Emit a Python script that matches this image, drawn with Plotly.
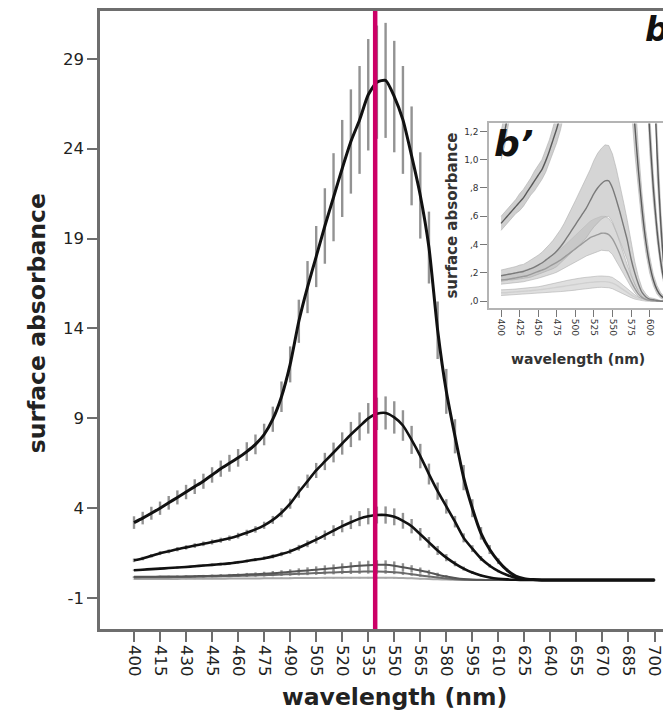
import plotly.graph_objects as go

# ---------------- data ----------------
WAVELENGTH = list(range(400, 705, 5))

X_TICK_VALUES = [400, 415, 430, 445, 460, 475, 490, 505, 520, 535, 550,
                 565, 580, 595, 610, 625, 640, 655, 670, 685, 700]
X_TICK_LABELS = [str(v) for v in X_TICK_VALUES]
Y_TICK_VALUES = [-1, 4, 9, 14, 19, 24, 29]
Y_TICK_LABELS = ["-1", "4", "9", "14", "19", "24", "29"]

INSET_X_TICK_VALUES = [400, 425, 450, 475, 500, 525, 550, 575, 600, 625, 650, 675, 700]
INSET_X_TICK_LABELS = [str(v) for v in INSET_X_TICK_VALUES]
INSET_Y_TICK_VALUES = [0.0, 0.2, 0.4, 0.6, 0.8, 1.0, 1.2]
INSET_Y_TICK_LABELS = [",0", ",2", ",4", ",6", ",8", "1,0", "1,2"]

MARKER_WAVELENGTH = 539

# series (400..700 nm, step 5)
A = [3.2, 3.45, 3.72, 4.0, 4.3, 4.6, 4.9, 5.2, 5.5, 5.85,
     6.2, 6.5, 6.8, 7.15, 7.55, 8.1, 8.95, 10.2, 12.0, 14.4,
     16.3, 18.0, 19.7, 21.3, 22.9, 24.4, 25.6, 27.0, 27.7, 27.8,
     26.9, 25.6, 23.6, 21.4, 18.5, 13.9, 10.5, 8.0, 5.7, 4.0,
     2.6, 1.7, 1.05, 0.55, 0.22, 0.08, 0.03, 0.01, 0.01, 0.01,
     0.01, 0.01, 0.01, 0.01, 0.01, 0.01, 0.01, 0.01, 0.01, 0.01, 0.01]
A_ERR = [0.35, 0.35, 0.36, 0.37, 0.38, 0.39, 0.40, 0.41, 0.42, 0.43,
         0.45, 0.47, 0.49, 0.52, 0.55, 0.6, 0.7, 0.85, 1.0, 1.2,
         1.45, 1.7, 2.1, 2.45, 2.7, 2.9, 3.0, 3.1, 3.15, 3.2,
         3.1, 3.0, 2.75, 2.4, 2.0, 1.6, 1.25, 0.95, 0.7, 0.5,
         0.35, 0.25, 0.16, 0.1, 0.06, 0.04, 0.02, 0.02, 0.02, 0.02,
         0.02, 0.02, 0.02, 0.02, 0.02, 0.02, 0.02, 0.02, 0.02, 0.02, 0.02]

B = [1.1, 1.2, 1.35, 1.5, 1.6, 1.72, 1.82, 1.92, 2.02, 2.12,
     2.22, 2.33, 2.47, 2.63, 2.82, 3.05, 3.35, 3.75, 4.25, 4.9,
     5.5, 6.1, 6.6, 7.1, 7.6, 8.1, 8.55, 9.0, 9.25, 9.3,
     9.05, 8.6, 7.8, 6.9, 5.9, 4.95, 4.1, 3.25, 2.35, 1.75,
     1.2, 0.8, 0.5, 0.28, 0.13, 0.05, 0.02, 0.01, 0.01, 0.01,
     0.01, 0.01, 0.01, 0.01, 0.01, 0.01, 0.01, 0.01, 0.01, 0.01, 0.01]
B_ERR = [0.1, 0.1, 0.1, 0.11, 0.11, 0.12, 0.12, 0.13, 0.13, 0.14,
         0.14, 0.15, 0.16, 0.17, 0.18, 0.2, 0.22, 0.25, 0.28, 0.32,
         0.37, 0.42, 0.48, 0.55, 0.62, 0.7, 0.78, 0.85, 0.9, 0.92,
         0.9, 0.85, 0.78, 0.68, 0.58, 0.48, 0.4, 0.32, 0.25, 0.19,
         0.14, 0.1, 0.07, 0.05, 0.03, 0.02, 0.01, 0.01, 0.01, 0.01,
         0.01, 0.01, 0.01, 0.01, 0.01, 0.01, 0.01, 0.01, 0.01, 0.01, 0.01]

C = [0.55, 0.58, 0.61, 0.64, 0.67, 0.7, 0.73, 0.77, 0.81, 0.85,
     0.89, 0.93, 0.99, 1.06, 1.14, 1.22, 1.32, 1.45, 1.6, 1.8,
     2.02, 2.25, 2.5, 2.75, 3.0, 3.22, 3.42, 3.55, 3.62, 3.62,
     3.52, 3.3, 3.0, 2.55, 2.1, 1.65, 1.25, 0.92, 0.64, 0.42,
     0.26, 0.15, 0.08, 0.04, 0.02, 0.01, 0.005, 0.0, 0.0, 0.0,
     0.0, 0.0, 0.0, 0.0, 0.0, 0.0, 0.0, 0.0, 0.0, 0.0, 0.0]
C_ERR = [0.05, 0.05, 0.05, 0.05, 0.05, 0.06, 0.06, 0.06, 0.06, 0.07,
         0.07, 0.07, 0.08, 0.08, 0.09, 0.1, 0.11, 0.12, 0.14, 0.16,
         0.19, 0.22, 0.26, 0.3, 0.34, 0.38, 0.42, 0.45, 0.47, 0.48,
         0.47, 0.44, 0.4, 0.35, 0.3, 0.25, 0.2, 0.15, 0.11, 0.08,
         0.06, 0.04, 0.03, 0.02, 0.01, 0.01, 0.01, 0.01, 0.01, 0.01,
         0.01, 0.01, 0.01, 0.01, 0.01, 0.01, 0.01, 0.01, 0.01, 0.01, 0.01]

D = [0.18, 0.185, 0.19, 0.195, 0.2, 0.205, 0.21, 0.22, 0.23, 0.24,
     0.255, 0.27, 0.29, 0.31, 0.33, 0.355, 0.385, 0.42, 0.46, 0.5,
     0.54, 0.58, 0.62, 0.66, 0.71, 0.76, 0.8, 0.83, 0.85, 0.85,
     0.8, 0.72, 0.63, 0.53, 0.43, 0.3, 0.2, 0.12, 0.06, 0.03,
     0.015, 0.01, 0.005, 0.0, 0.0, 0.0, 0.0, 0.0, 0.0, 0.0,
     0.0, 0.0, 0.0, 0.0, 0.0, 0.0, 0.0, 0.0, 0.0, 0.0, 0.0]
D_ERR = [0.04, 0.04, 0.04, 0.045, 0.045, 0.05, 0.05, 0.055, 0.06, 0.065,
         0.07, 0.075, 0.08, 0.09, 0.1, 0.11, 0.12, 0.13, 0.14, 0.155,
         0.17, 0.185, 0.2, 0.21, 0.22, 0.235, 0.245, 0.25, 0.255, 0.25,
         0.24, 0.22, 0.2, 0.17, 0.14, 0.11, 0.08, 0.05, 0.03, 0.02,
         0.01, 0.01, 0.005, 0.005, 0.005, 0.005, 0.005, 0.005, 0.005, 0.005,
         0.005, 0.005, 0.005, 0.005, 0.005, 0.005, 0.005, 0.005, 0.005, 0.005, 0.005]

E = [0.15, 0.152, 0.155, 0.16, 0.165, 0.17, 0.175, 0.18, 0.19, 0.2,
     0.21, 0.22, 0.23, 0.245, 0.26, 0.275, 0.29, 0.31, 0.33, 0.35,
     0.37, 0.39, 0.41, 0.43, 0.45, 0.46, 0.47, 0.48, 0.48, 0.47,
     0.44, 0.39, 0.33, 0.26, 0.2, 0.14, 0.09, 0.05, 0.025, 0.012,
     0.006, 0.003, 0.0, 0.0, 0.0, 0.0, 0.0, 0.0, 0.0, 0.0,
     0.0, 0.0, 0.0, 0.0, 0.0, 0.0, 0.0, 0.0, 0.0, 0.0, 0.0]
E_ERR = [0.03, 0.03, 0.03, 0.032, 0.034, 0.036, 0.038, 0.04, 0.042, 0.045,
         0.048, 0.05, 0.055, 0.06, 0.065, 0.07, 0.075, 0.08, 0.085, 0.09,
         0.095, 0.1, 0.105, 0.11, 0.115, 0.12, 0.12, 0.12, 0.12, 0.115,
         0.11, 0.1, 0.085, 0.07, 0.055, 0.04, 0.03, 0.02, 0.01, 0.006,
         0.004, 0.002, 0.002, 0.002, 0.002, 0.002, 0.002, 0.002, 0.002, 0.002,
         0.002, 0.002, 0.002, 0.002, 0.002, 0.002, 0.002, 0.002, 0.002, 0.002, 0.002]

F = [0.06, 0.06, 0.062, 0.064, 0.066, 0.068, 0.07, 0.072, 0.074, 0.077,
     0.08, 0.083, 0.086, 0.09, 0.094, 0.098, 0.102, 0.106, 0.11, 0.114,
     0.118, 0.122, 0.126, 0.13, 0.133, 0.135, 0.137, 0.138, 0.138, 0.135,
     0.128, 0.115, 0.098, 0.08, 0.062, 0.045, 0.03, 0.018, 0.01, 0.005,
     0.003, 0.001, 0.0, 0.0, 0.0, 0.0, 0.0, 0.0, 0.0, 0.0,
     0.0, 0.0, 0.0, 0.0, 0.0, 0.0, 0.0, 0.0, 0.0, 0.0, 0.0]
F_ERR = [0.02, 0.02, 0.02, 0.02, 0.02, 0.02, 0.02, 0.02, 0.02, 0.02,
         0.022, 0.024, 0.026, 0.028, 0.03, 0.032, 0.034, 0.036, 0.038, 0.04,
         0.04, 0.04, 0.04, 0.04, 0.04, 0.04, 0.04, 0.04, 0.04, 0.04,
         0.04, 0.038, 0.034, 0.03, 0.025, 0.02, 0.015, 0.01, 0.006, 0.004,
         0.002, 0.002, 0.002, 0.002, 0.002, 0.002, 0.002, 0.002, 0.002, 0.002,
         0.002, 0.002, 0.002, 0.002, 0.002, 0.002, 0.002, 0.002, 0.002, 0.002, 0.002]

SERIES = [
    # name, values, errors, main line colour, main line width, inset line colour, inset band colour
    ("F", F, F_ERR, "#a8a8a8", 2.0, "#d0d0d0", "rgba(215,215,215,0.8)"),
    ("E", E, E_ERR, "#6a6a6a", 2.0, "#9a9a9a", "rgba(205,205,205,0.75)"),
    ("D", D, D_ERR, "#555555", 2.0, "#7a7a7a", "rgba(190,190,190,0.65)"),
    ("C", C, C_ERR, "#111111", 2.6, "#5a5a5a", "rgba(195,195,195,0.8)"),
    ("B", B, B_ERR, "#111111", 2.6, "#5a5a5a", "rgba(195,195,195,0.8)"),
    ("A", A, A_ERR, "#111111", 3.0, "#5a5a5a", "rgba(195,195,195,0.8)"),
]

FONT = "DejaVu Sans, Arial, sans-serif"

fig = go.Figure()

# ---- main chart: error bars first, then lines on top ----
for name, vals, errs, lc, lw, _, _ in SERIES:
    fig.add_trace(go.Scatter(
        x=WAVELENGTH, y=vals, mode="markers",
        marker=dict(size=1, color="rgba(0,0,0,0)"),
        error_y=dict(type="data", array=errs, visible=True, width=0,
                     thickness=2.4, color="#939393"),
        hoverinfo="skip", xaxis="x", yaxis="y"))
for name, vals, errs, lc, lw, _, _ in SERIES:
    fig.add_trace(go.Scatter(
        x=WAVELENGTH, y=vals, mode="lines",
        line=dict(color=lc, width=lw, shape="spline", smoothing=0.6),
        name=name, xaxis="x", yaxis="y"))

# ---- inset: bands + lines ----
for name, vals, errs, _, _, ilc, band in SERIES:
    upper = [v + e for v, e in zip(vals, errs)]
    lower = [v - e for v, e in zip(vals, errs)]
    fig.add_trace(go.Scatter(
        x=WAVELENGTH + WAVELENGTH[::-1], y=upper + lower[::-1],
        mode="lines", fill="toself", fillcolor=band,
        line=dict(width=0.6, color="rgba(170,170,170,0.9)"),
        hoverinfo="skip", xaxis="x2", yaxis="y2"))
for name, vals, errs, _, _, ilc, band in SERIES:
    fig.add_trace(go.Scatter(
        x=WAVELENGTH, y=vals, mode="lines",
        line=dict(color=ilc, width=1.4, shape="spline", smoothing=0.6),
        hoverinfo="skip", xaxis="x2", yaxis="y2"))

AXIS_GREY = "#6e6e6e"
INSET_GREY = "#b4b4b4"

fig.update_layout(
    width=663, height=703,
    margin=dict(l=92, r=0, t=1, b=82),
    paper_bgcolor="white", plot_bgcolor="white",
    showlegend=False,
    font=dict(family=FONT, color="#222222"),
    xaxis=dict(domain=[0, 1], range=[380.4, 709.5],
               tickmode="array", tickvals=X_TICK_VALUES, ticktext=X_TICK_LABELS,
               tickangle=90, ticks="outside", ticklen=10, tickwidth=2, tickcolor=AXIS_GREY,
               showline=True, linecolor=AXIS_GREY, linewidth=2.5, mirror=True,
               showgrid=False, zeroline=False,
               tickfont=dict(family=FONT, size=16.5, color="#222222")),
    yaxis=dict(domain=[0, 1], range=[-2.72, 31.66],
               tickmode="array", tickvals=Y_TICK_VALUES, ticktext=Y_TICK_LABELS,
               ticks="outside", ticklen=10, tickwidth=2, tickcolor=AXIS_GREY,
               showline=True, linecolor=AXIS_GREY, linewidth=2.5, mirror=False,
               showgrid=False, zeroline=False,
               tickfont=dict(family=FONT, size=16.5, color="#222222")),
    xaxis2=dict(domain=[0.6813, 1.0], anchor="y2", range=[383.8, 628.8],
                tickmode="array", tickvals=INSET_X_TICK_VALUES, ticktext=INSET_X_TICK_LABELS,
                tickangle=90, ticks="outside", ticklen=7, tickwidth=1.2, tickcolor="#777777",
                showline=True, linecolor=INSET_GREY, linewidth=1.5, mirror=True,
                showgrid=False, zeroline=False,
                tickfont=dict(family=FONT, size=9, color="#333333")),
    yaxis2=dict(domain=[0.519, 0.818], anchor="x2", range=[-0.05, 1.256],
                tickmode="array", tickvals=INSET_Y_TICK_VALUES, ticktext=INSET_Y_TICK_LABELS,
                ticks="outside", ticklen=7, tickwidth=1.2, tickcolor="#777777",
                showline=True, linecolor=INSET_GREY, linewidth=1.5, mirror=False,
                showgrid=False, zeroline=False,
                tickfont=dict(family=FONT, size=9, color="#333333")),
    shapes=[dict(type="line", xref="x", yref="paper",
                 x0=MARKER_WAVELENGTH, x1=MARKER_WAVELENGTH, y0=0, y1=1,
                 line=dict(color="#CC0066", width=4.5), layer="above")],
    annotations=[
        dict(text="<b>surface absorbance</b>", xref="paper", yref="paper",
             x=-0.110, y=0.495, xanchor="center", yanchor="middle",
             textangle=-90, showarrow=False,
             font=dict(family=FONT, size=23.5, color="#222222")),
        dict(text="<b>wavelength (nm)</b>", xref="paper", yref="paper",
             x=0.515, y=-0.1097, xanchor="center", yanchor="middle", showarrow=False,
             font=dict(family=FONT, size=23.5, color="#222222")),
        dict(text="<b>surface absorbance</b>", xref="paper", yref="paper",
             x=0.6165, y=0.669, xanchor="center", yanchor="middle",
             textangle=-90, showarrow=False,
             font=dict(family=FONT, size=15, color="#333333")),
        dict(text="<b>wavelength (nm)</b>", xref="paper", yref="paper",
             x=0.837, y=0.437, xanchor="center", yanchor="middle", showarrow=False,
             font=dict(family=FONT, size=14, color="#333333")),
        dict(text="<b><i>b’</i></b>", xref="paper", yref="paper",
             x=0.686, y=0.822, xanchor="left", yanchor="top", showarrow=False,
             font=dict(family=FONT, size=36, color="#111111")),
        dict(text="<b><i>b</i></b>", xref="paper", yref="paper",
             x=1.0, y=1.005, xanchor="right", yanchor="top", showarrow=False,
             font=dict(family=FONT, size=33, color="#111111")),
    ],
)

fig.write_html("out.html")
